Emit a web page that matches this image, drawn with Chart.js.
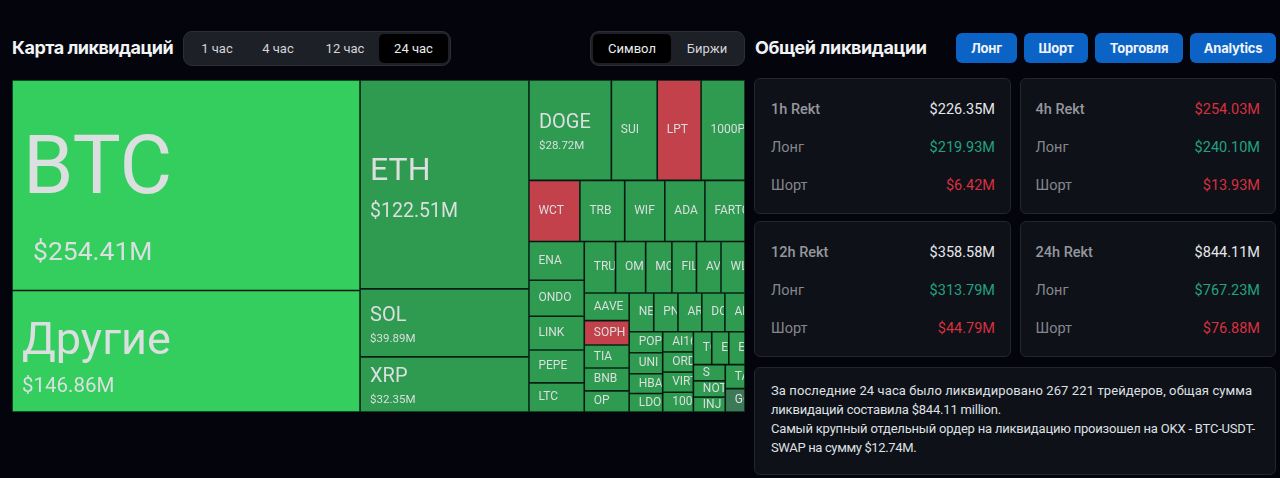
<!DOCTYPE html>
<html>
<head>
<meta charset="utf-8">
<script src="https://cdn.jsdelivr.net/npm/chart.js@4"></script>
<style>
  * { box-sizing: border-box; }
  html, body { margin: 0; width: 1280px; height: 478px; overflow: hidden; background: #03040c; font-family: Roboto, sans-serif; color: #e4e5e8; }
  .abs { position: absolute; }
  .title { font: 700 18px/22px Inter, sans-serif; color: #f2f3f5; letter-spacing: -0.5px; white-space: nowrap; }
  .tabs { top: 31px; height: 35px; background: #1d2027; border: 1px solid #2c2f37; border-radius: 9px; font-size: 13px; color: #d4d5d9; }
  .tabs div { position: absolute; top: 2px; height: 29px; line-height: 29px; text-align: center; border-radius: 5px; }
  .tabs .on { background: #000; color: #eceded; }
  .btn { top: 32.5px; height: 30px; line-height: 30px; background: #0b63c6; border-radius: 6px; color: #f1f4f9; font: 700 13px/30px Inter, sans-serif; text-align: center; letter-spacing: -0.2px; }
  .card { background: #0e1118; border: 1px solid #23262e; border-radius: 6px; }
  .row { position: absolute; left: 16px; right: 15px; height: 20px; line-height: 20px; font-size: 14.5px; }
  .row span:first-child { color: #85878d; }
  .row span:last-child { position: absolute; right: 0; }
  .row.head span:first-child { color: #95979c; font-weight: 500; }
  .info { font-size: 13px; line-height: 19px; color: #dfe0e3; padding: 13px 16px; white-space: nowrap; }
  #map { left: 12px; top: 80px; width: 733px; height: 332px; }
</style>
</head>
<body>
<div class="abs title" style="left:12px;top:37px">Карта ликвидаций</div>
<div class="abs tabs" id="hours" style="left:183px;width:268px"></div>
<div class="abs tabs" id="modes" style="left:590px;width:155px"></div>
<div class="abs title" style="left:755px;top:37px;letter-spacing:-.38px">Общей ликвидации</div>
<div id="buttons"></div>
<div id="cards"></div>
<div class="abs card info" style="left:754px;top:367px;width:522px;height:108px">
  <span style="letter-spacing:.1px">За последние 24 часа было ликвидировано 267 221 трейдеров, общая сумма</span><br>
  <span style="letter-spacing:-.2px">ликвидаций составила $844.11 million.</span><br>
  <span style="letter-spacing:-.2px">Самый крупный отдельный ордер на ликвидацию произошел на OKX - BTC-USDT-</span><br>
  <span style="letter-spacing:-.35px">SWAP на сумму $12.74M.</span>
</div>
<div class="abs" id="map"><canvas id="canvas"></canvas></div>

<script>
// treemap data, biggest first, in $M
const coins = ['BTC', 'Другие', 'ETH', 'SOL', 'XRP', 'DOGE', 'SUI', 'LPT', '1000PEPE', 'WCT', 'TRB', 'WIF', 'ADA', 'FARTCOIN',
  'ENA', 'ONDO', 'LINK', 'PEPE', 'LTC', 'TRUMP', 'OM', 'MOODENG', 'FIL', 'AVAX', 'WLD', 'AAVE', 'SOPH', 'TIA', 'BNB', 'OP',
  'NEAR', 'PNUT', 'ARB', 'DOGS', 'APT', 'POPCAT', 'UNI', 'HBAR', 'LDO', 'AI16Z', 'ORDI', 'VIRTUAL', '1000BONK',
  'TON', 'ETC', 'ENS', 'S', 'NOT', 'INJ', 'TAO', 'GOAT'];
const liquidated = [254.41, 146.86, 122.51, 39.89, 32.35, 28.72, 16, 15.3, 15.3, 10.8, 9.5, 8.5, 8.5, 8.5,
  7.45, 6.9, 6.5, 6.3, 5.6, 5.6, 5.4, 4.7, 4.4, 4.4, 4.3, 4.3, 3.8, 3.6, 3.55, 3.3,
  3.3, 3.25, 3.2, 3.1, 2.7, 2.45, 2.45, 2.3, 2.15, 2.15, 2.15, 2.15, 2.1,
  2.1, 1.95, 1.85, 1.8, 1.8, 1.65, 1.65, 1.6];
const shortHeavy = ['LPT', 'WCT', 'SOPH'];
const dimmed = ['GOAT'];

const hourTabs = ['1 час', '4 час', '12 час', '24 час'];
const modeTabs = ['Символ', 'Биржи'];
const actions = ['Лонг', 'Шорт', 'Торговля', 'Analytics'];

const periods = ['1h Rekt', '4h Rekt', '12h Rekt', '24h Rekt'];
const totals = ['$226.35M', '$254.03M', '$358.58M', '$844.11M'];
const longs = ['$219.93M', '$240.10M', '$313.79M', '$767.23M'];
const shorts = ['$6.42M', '$13.93M', '$44.79M', '$76.88M'];
const totalIsRed = [false, true, false, false];

// html around the chart
function fillTabs(id, labels, lefts, widths, active) {
  const box = document.getElementById(id);
  labels.forEach((label, i) => {
    box.innerHTML += `<div class="${i === active ? 'on' : ''}" style="left:${lefts[i]}px;width:${widths[i]}px">${label}</div>`;
  });
}
fillTabs('hours', hourTabs, [2, 63, 127, 195], [62, 62, 68, 69], 3);
fillTabs('modes', modeTabs, [2, 80], [78, 72], 0);

const btnLefts = [956, 1024, 1095, 1190];
const btnWidths = [61, 64, 88, 86];
actions.forEach((label, i) => {
  document.getElementById('buttons').innerHTML +=
    `<div class="abs btn" style="left:${btnLefts[i]}px;width:${btnWidths[i]}px">${label}</div>`;
});

periods.forEach((period, i) => {
  const left = i % 2 ? 1019.5 : 754;
  const top = i < 2 ? 78 : 221;
  document.getElementById('cards').innerHTML += `
    <div class="abs card" style="left:${left}px;top:${top}px;width:${i % 2 ? 256.5 : 257}px;height:136px">
      <div class="row head" style="top:21px;left:${i % 2 ? 15 : 16}px"><span>${period}</span><span style="color:${totalIsRed[i] ? '#d8303f' : '#e6e7ea'}">${totals[i]}</span></div>
      <div class="row" style="top:59px;left:${i % 2 ? 15 : 16}px"><span>Лонг</span><span style="color:#22a27f">${longs[i]}</span></div>
      <div class="row" style="top:97px;left:${i % 2 ? 15 : 16}px"><span>Шорт</span><span style="color:#d8303f">${shorts[i]}</span></div>
    </div>`;
});

// squarified layout, same steps as d3.treemapSquarify
function squarify(values, width, height) {
  const ratio = (1 + Math.sqrt(5)) / 2;
  const rects = [];
  let x0 = 0, y0 = 0, x1 = width, y1 = height;
  let left = values.reduce((a, b) => a + b, 0);
  const scale = width * height / left;
  let start = 0;
  while (start < values.length) {
    const dx = x1 - x0, dy = y1 - y0;
    let end = start + 1;
    let sum = values[start], minV = values[start], maxV = values[start];
    const alpha = Math.max(dy / dx, dx / dy) / (left * ratio);
    let beta = sum * sum * alpha;
    let best = Math.max(maxV / beta, beta / minV);
    for (; end < values.length; end++) {
      const v = values[end];
      const nextSum = sum + v;
      const nextMin = Math.min(minV, v), nextMax = Math.max(maxV, v);
      beta = nextSum * nextSum * alpha;
      const next = Math.max(nextMax / beta, beta / nextMin);
      if (next > best) break;
      sum = nextSum; minV = nextMin; maxV = nextMax; best = next;
    }
    const area = sum * scale;
    if (dx < dy) {
      // row along the top
      const rowH = area / dx;
      let cx = x0;
      for (let i = start; i < end; i++) {
        const w = values[i] * scale / rowH;
        rects[i] = { x0: cx, x1: cx + w, y0: y0, y1: y0 + rowH };
        cx += w;
      }
      y0 += rowH;
    } else {
      // column on the left
      const colW = area / dy;
      let cy = y0;
      for (let i = start; i < end; i++) {
        const h = values[i] * scale / colW;
        rects[i] = { x0: x0, x1: x0 + colW, y0: cy, y1: cy + h };
        cy += h;
      }
      x0 += colW;
    }
    left -= sum;
    start = end;
  }
  return rects;
}

class TreemapController extends Chart.DatasetController {
  update(mode) {
    const meta = this._cachedMeta;
    this.updateElements(meta.data, 0, meta.data.length, mode);
  }
  parse() {
    const meta = this._cachedMeta;
    meta._parsed = this.getDataset().data.map(v => ({ x: 0, y: 0, v: v }));
  }
  updateElements(cells, start, count, mode) {
    const xs = this._cachedMeta.xScale, ys = this._cachedMeta.yScale;
    const w = xs.right - xs.left, h = ys.bottom - ys.top;
    const rects = squarify(this.getDataset().data, w, h);
    for (let i = start; i < start + count; i++) {
      const r = rects[i];
      const left = xs.getPixelForValue(r.x0 / w), right = xs.getPixelForValue(r.x1 / w);
      const top = ys.getPixelForValue(r.y0 / h), bottom = ys.getPixelForValue(r.y1 / h);
      this.updateElement(cells[i], i, {
        x: (left + right) / 2, y: top, base: bottom, width: right - left, height: bottom - top,
        horizontal: false, enableBorderRadius: false, inflateAmount: 0,
        borderSkipped: { top: false, bottom: false, left: false, right: false },
        options: this.resolveDataElementOptions(i, mode)
      }, mode);
    }
  }
  draw() {
    this._cachedMeta.data.forEach(cell => cell.draw(this.chart.ctx, this.chart.chartArea));
  }
}
TreemapController.id = 'treemap';
TreemapController.defaults = { dataElementType: 'bar', animations: false };
TreemapController.overrides = {};
Chart.register(TreemapController);

// font sizes go by how big the cell is
function labelStyle(value) {
  if (value > 200) return { name: 81, val: 26.5, nameDy: -12, valDy: 68, valDx: 10, pad: 11 };
  if (value > 130) return { name: 45, val: 20.5, nameDy: -8, valDy: 36, valDx: 0, pad: 10 };
  if (value > 100) return { name: 32, val: 19.5, nameDy: -12, valDy: 28, valDx: 0, pad: 10 };
  if (value > 20) return { name: 20, val: 11.5, nameDy: -7, valDy: 16, valDx: 0, pad: 10 };
  return { name: 12, nameDy: 0, pad: 9.5 };
}

function money(v) {
  return '$' + v.toFixed(2) + 'M';
}

const cellLabels = {
  id: 'cellLabels',
  afterDatasetsDraw(chart) {
    const ctx = chart.ctx;
    chart.getDatasetMeta(0).data.forEach((cell, i) => {
      const v = liquidated[i];
      const s = labelStyle(v);
      const left = cell.x - cell.width / 2;
      const midY = (cell.y + cell.base) / 2;
      ctx.save();
      ctx.beginPath();
      ctx.rect(left, cell.y, cell.width - 1, cell.height);
      ctx.clip();
      ctx.fillStyle = '#dcdfe0';
      ctx.textBaseline = 'middle';
      ctx.font = s.name + 'px Roboto';
      ctx.fillText(coins[i], left + s.pad, midY + s.nameDy);
      if (s.val) {
        ctx.font = s.val + 'px Roboto';
        ctx.fillText(money(v), left + s.pad + s.valDx, midY + s.valDy);
      }
      ctx.restore();
    });
  }
};

new Chart(document.getElementById('canvas'), {
  type: 'treemap',
  data: {
    labels: coins,
    datasets: [{
      label: 'Ликвидации',
      data: liquidated,
      borderWidth: 0.8,
      borderColor: '#0a3019',
      borderSkipped: false,
      backgroundColor: ctx => {
        const name = coins[ctx.dataIndex];
        if (shortHeavy.includes(name)) return '#c2414b';
        if (dimmed.includes(name)) return '#3c7a57';
        return liquidated[ctx.dataIndex] > 130 ? '#33ce5d' : '#2f9b50';
      }
    }]
  },
  options: {
    responsive: true,
    maintainAspectRatio: false,
    animation: false,
    layout: { padding: 0 },
    scales: {
      x: { type: 'linear', min: 0, max: 1, display: false },
      y: { type: 'linear', min: 0, max: 1, reverse: true, display: false }
    },
    plugins: { legend: { display: false }, tooltip: { enabled: false } }
  },
  plugins: [cellLabels]
});
</script>
</body>
</html>
